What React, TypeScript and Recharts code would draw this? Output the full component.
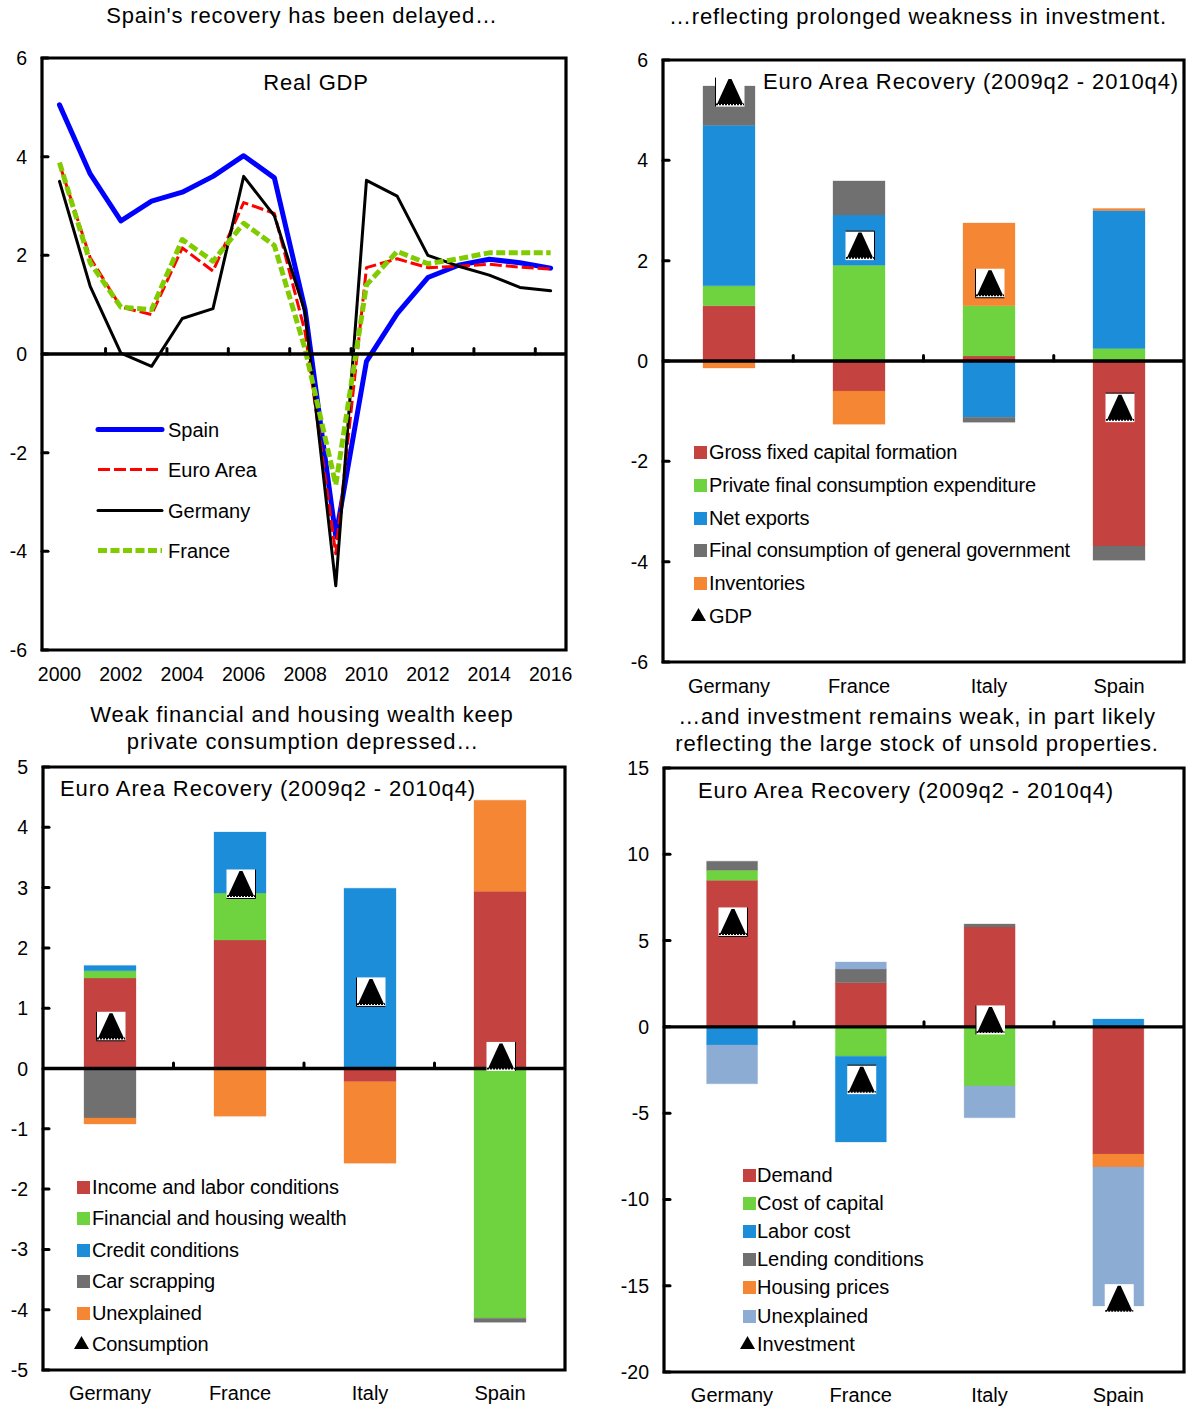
import React from 'react';
import { ComposedChart, Bar, Line, XAxis, YAxis, ReferenceLine, ReferenceArea, Legend } from 'recharts';

const FONT = '"Liberation Sans", Arial, sans-serif';

// Panel 1: real GDP
const years = [2000,2001,2002,2003,2004,2005,2006,2007,2008,2009,2010,2011,2012,2013,2014,2015,2016];
const spainGdp = [5.05,3.65,2.7,3.1,3.28,3.6,4.02,3.57,0.9,-3.7,-0.15,0.82,1.55,1.8,1.92,1.85,1.74];
const euroGdp = [3.85,1.95,0.95,0.8,2.15,1.68,3.07,2.85,0.45,-4.05,1.75,1.93,1.75,1.78,1.82,1.76,1.72];
const germanyGdp = [3.5,1.37,0.02,-0.25,0.72,0.92,3.6,2.8,0.85,-4.7,3.52,3.2,2.0,1.78,1.6,1.35,1.28];
const franceGdp = [3.88,1.85,0.95,0.9,2.32,1.88,2.65,2.2,0.1,-2.65,1.4,2.08,1.83,1.93,2.05,2.05,2.05];
const yearTicks = [2000,2002,2004,2006,2008,2010,2012,2014,2016];
const yearMarks = [2001.5,2003.5,2005.5,2007.5,2009.5,2011.5,2013.5,2015.5];

const countries = ['Germany','France','Italy','Spain'];

// Panel 2: GDP contributions
const gfcf = [1.1,-0.6,0.1,-3.69];
const privCons = [0.4,1.91,1.0,0.25];
const netExports = [3.2,1.0,-1.12,2.75];
const govCons = [0.78,0.68,-0.1,-0.28];
const inventories = [-0.14,-0.66,1.65,0.04];
const gdpMark = [5.36,2.3,1.55,-0.93];
const gdpEdges = ['L','TR','LB','T'];

// Panel 3: consumption contributions
const incomeLabor = [1.5,2.13,-0.22,2.94];
const finHousing = [0.12,0.78,0,-4.14];
const creditCond = [0.09,1.01,2.99,0];
const carScrap = [-0.82,0,0,-0.07];
const unexplainedC = [-0.1,-0.79,-1.35,1.51];
const consMark = [0.7,3.06,1.27,0.2];
const consEdges = ['LB','RB','LB','R'];

// Panel 4: investment contributions
const demand = [8.5,2.55,5.79,-7.37];
const costCapital = [0.58,-1.7,-3.42,0];
const laborCost = [-1.05,-4.97,0,0.45];
const lending = [0.52,0.8,0.17,0];
const housingPrices = [0,0,0,-0.75];
const unexplainedI = [-2.25,0.41,-1.85,-8.05];
const invMark = [6.08,-3.06,0.4,-15.75];
const invEdges = ['RB','T','L',''];

const RED = '#C44240', GREEN = '#6FD33F', BLUE = '#1C8DD9', GRAY = '#707070', ORANGE = '#F58634', LTBLUE = '#8DACD4';

const gdpRows = years.map((year, i) => ({ year, Spain: spainGdp[i], 'Euro Area': euroGdp[i], Germany: germanyGdp[i], France: franceGdp[i] }));

const lineSeries = [
  { name: 'Spain', stroke: '#0000FF', width: 5, dash: undefined, cap: 'round' },
  { name: 'Euro Area', stroke: '#FF0000', width: 3, dash: '12 4', cap: 'butt' },
  { name: 'Germany', stroke: '#000000', width: 3, dash: undefined, cap: 'round' },
  { name: 'France', stroke: '#80CC00', width: 5, dash: '9 3.5', cap: 'butt' },
];

const panel2Series = [
  { name: 'Gross fixed capital formation', color: RED, values: gfcf },
  { name: 'Private final consumption expenditure', color: GREEN, values: privCons },
  { name: 'Net exports', color: BLUE, values: netExports },
  { name: 'Final consumption of general government', color: GRAY, values: govCons },
  { name: 'Inventories', color: ORANGE, values: inventories },
];
const panel3Series = [
  { name: 'Income and labor conditions', color: RED, values: incomeLabor },
  { name: 'Financial and housing wealth', color: GREEN, values: finHousing },
  { name: 'Credit conditions', color: BLUE, values: creditCond },
  { name: 'Car scrapping', color: GRAY, values: carScrap },
  { name: 'Unexplained', color: ORANGE, values: unexplainedC },
];
const panel4Series = [
  { name: 'Demand', color: RED, values: demand },
  { name: 'Cost of capital', color: GREEN, values: costCapital },
  { name: 'Labor cost', color: BLUE, values: laborCost },
  { name: 'Lending conditions', color: GRAY, values: lending },
  { name: 'Housing prices', color: ORANGE, values: housingPrices },
  { name: 'Unexplained', color: LTBLUE, values: unexplainedI },
];

const Txt = ({ x, y, size = 22, spacing = 0.82, center, children }: any) => (
  <div style={{
    position: 'absolute', left: center ? x - 400 : x, width: center ? 800 : undefined, top: y - 15, height: 30, lineHeight: '30px',
    textAlign: center ? 'center' : 'left', whiteSpace: 'nowrap', fontFamily: FONT, fontSize: size, letterSpacing: spacing, color: '#000', zIndex: 5,
  }}>{children}</div>
);

const makeYTick = (frameLeft: number) => (props: any) => {
  const { y, payload } = props;
  return (
    <g>
      <line x1={frameLeft} x2={frameLeft + 6} y1={y} y2={y} stroke="#000" strokeWidth={3} strokeLinecap="round" />
      <text x={frameLeft - 15} y={y} textAnchor="end" dominantBaseline="central" fontFamily={FONT} fontSize={19.5} fill="#000">{payload.value}</text>
    </g>
  );
};

const makeMarker = (edges: string[]) => (props: any) => {
  const { cx, cy, index } = props;
  if (cx == null || cy == null) return <g key={index} />;
  const e = edges[index] || '';
  const x0 = cx - 13.5, x1 = cx + 15.5, y0 = cy - 14.5, y1 = cy + 14.5;
  return (
    <g key={index}>
      <rect x={x0} y={y0} width={29} height={29} fill="#fff" />
      <path d={`M${cx - 0.5} ${cy - 13} L${cx + 2.5} ${cy - 13} L${cx + 14} ${cy + 12} L${cx - 12} ${cy + 12} Z`} fill="#000" />
      <line x1={cx - 13} x2={cx + 15} y1={cy + 12.2} y2={cy + 12.2} stroke="#000" strokeWidth={1.8} strokeDasharray="2 1" />
      {e.includes('L') && <line x1={x0} x2={x0} y1={y0} y2={y1} stroke="#000" strokeWidth={1} />}
      {e.includes('R') && <line x1={x1} x2={x1} y1={y0} y2={y1} stroke="#000" strokeWidth={1} />}
      {e.includes('T') && <line x1={x0} x2={x1} y1={y0} y2={y0} stroke="#000" strokeWidth={1} />}
      {e.includes('B') && <line x1={x0} x2={x1} y1={y1} y2={y1} stroke="#000" strokeWidth={1} />}
    </g>
  );
};

const LegendRows = ({ rows, spacing, textOffset, tracking = 0 }: any) => (
  <div style={{ position: 'relative', fontFamily: FONT, fontSize: 20, color: '#000', letterSpacing: tracking }}>
    {rows.map((r: any, i: number) => (
      <div key={r.name} style={{ position: 'absolute', left: 0, top: i * spacing - 15, height: 30, lineHeight: '30px', whiteSpace: 'nowrap' }}>
        <svg width={textOffset} height={30} style={{ position: 'absolute', left: 0, top: 0, overflow: 'visible' }}>
          {r.kind === 'line' && <line x1={1} x2={textOffset - 6} y1={14.5} y2={14.5} stroke={r.stroke} strokeWidth={r.width} strokeDasharray={r.dash} strokeLinecap={r.cap} />}
          {r.kind === 'square' && <rect x={0} y={9} width={13} height={13} fill={r.color} />}
          {r.kind === 'triangle' && <path d="M-3 20 L4.5 7 L12 20 Z" fill="#000" />}
        </svg>
        <span style={{ position: 'absolute', left: textOffset }}>{r.name}</span>
      </div>
    ))}
  </div>
);

const LinePanel = () => {
  const yTicks = [-6,-4,-2,0,2,4,6];
  return (
    <div style={{ position: 'absolute', left: 0, top: 40 }}>
      <ComposedChart width={596} height={660} data={gdpRows} margin={{ top: 18, right: 30, bottom: 0, left: 0 }}>
        <XAxis dataKey="year" type="number" domain={[1999.43, 2016.5]} allowDataOverflow ticks={yearTicks} interval={0} axisLine={false} tickLine={false} tickMargin={11} height={50}
          tick={{ fontFamily: FONT, fontSize: 19.5, fill: '#000' }} tickFormatter={(v: number) => String(v)} />
        <YAxis type="number" domain={[-6, 6]} ticks={yTicks} width={42} axisLine={false} tickLine={false} interval={0} tick={makeYTick(42)} />
        {lineSeries.map(s => (
          <Line key={s.name} dataKey={s.name} type="linear" stroke={s.stroke} strokeWidth={s.width} strokeDasharray={s.dash} strokeLinecap={s.cap as any} strokeLinejoin="round" dot={false} activeDot={false} isAnimationActive={false} />
        ))}
        <ReferenceLine y={0} stroke="#000" strokeWidth={3.4} />
        {yearMarks.map(m => (
          <ReferenceLine key={m} segment={[{ x: m, y: 0 }, { x: m, y: 0.11 }]} stroke="#000" strokeWidth={3} strokeLinecap="round" />
        ))}
        <ReferenceArea x1={1999.43} x2={2016.5} y1={-6} y2={6} fill="none" stroke="#000" strokeWidth={3.2} ifOverflow="visible" />
        <Legend layout="vertical" align="center" verticalAlign="middle" wrapperStyle={{ left: 97, top: 390, width: 200, height: 10, margin: 0 }}
          content={() => <LegendRows spacing={40.3} textOffset={71} rows={lineSeries.map(s => ({ ...s, kind: 'line' }))} />} />
      </ComposedChart>
    </div>
  );
};

const StackPanel = ({ left, top, width, height, yWidth, marginTop, right, xHeight, domain, yTicks, series, marks, markName, edges, legend, tickUnits, barSize, tickMargin, pad }: any) => {
  const rows = countries.map((c, i) => {
    const row: any = { country: c, slot: i, [markName]: marks[i] };
    series.forEach((s: any) => { row[s.name] = s.values[i]; });
    return row;
  });
  const Marker = makeMarker(edges);
  return (
    <div style={{ position: 'absolute', left, top }}>
      <ComposedChart width={width} height={height} data={rows} stackOffset="sign" barCategoryGap={0} margin={{ top: marginTop, right, bottom: 0, left: 0 }}>
        <XAxis dataKey="country" axisLine={false} tickLine={false} height={xHeight} tickMargin={tickMargin} interval={0} padding={pad} tick={{ fontFamily: FONT, fontSize: 20, fill: '#000' }} />
        <XAxis xAxisId="slots" dataKey="slot" type="number" domain={[0, 4]} allowDataOverflow hide />
        <YAxis type="number" domain={domain} ticks={yTicks} width={yWidth} axisLine={false} tickLine={false} interval={0} tick={makeYTick(yWidth)} />
        {series.map((s: any) => (
          <Bar key={s.name} dataKey={s.name} stackId="a" fill={s.color} stroke={s.color} strokeOpacity={0.3} strokeWidth={1} barSize={barSize} isAnimationActive={false} />
        ))}
        <ReferenceLine y={0} stroke="#000" strokeWidth={3.4} />
        {[1, 2, 3].map(m => (
          <ReferenceLine key={m} xAxisId="slots" segment={[{ x: m, y: 0 }, { x: m, y: tickUnits }]} stroke="#000" strokeWidth={3} strokeLinecap="round" />
        ))}
        <Line dataKey={markName} stroke="none" dot={Marker} activeDot={false} isAnimationActive={false} />
        <ReferenceArea xAxisId="slots" x1={0} x2={4} y1={domain[0]} y2={domain[1]} fill="none" stroke="#000" strokeWidth={3.2} ifOverflow="visible" />
        <Legend layout="vertical" align="center" verticalAlign="middle" wrapperStyle={{ left: legend.left, top: legend.top, width: 420, height: 10, margin: 0 }}
          content={() => <LegendRows spacing={legend.spacing} textOffset={legend.offset} tracking={legend.tracking}
            rows={[...series.map((s: any) => ({ ...s, kind: 'square' })), { name: markName, kind: 'triangle' }]} />} />
      </ComposedChart>
    </div>
  );
};

export default function App() {
  return (
    <div style={{ position: 'absolute', left: 0, top: 0, width: 1193, height: 1410, background: '#fff', overflow: 'hidden' }}>
      <LinePanel />
      <StackPanel left={610} top={40} width={583} height={670} yWidth={53} marginTop={20} right={9} xHeight={48} tickMargin={11} pad={{ left: 1, right: 0 }}
        domain={[-6, 6]} yTicks={[-6,-4,-2,0,2,4,6]} series={panel2Series} marks={gdpMark} markName="GDP" edges={gdpEdges} tickUnits={0.11} barSize={52}
        legend={{ left: 84, top: 412, spacing: 32.8, offset: 15, tracking: -0.18 }} />
      <StackPanel left={0} top={750} width={596} height={660} yWidth={43} marginTop={17} right={31} xHeight={40} tickMargin={10} pad={{ left: 2, right: 0 }}
        domain={[-5, 5]} yTicks={[-5,-4,-3,-2,-1,0,1,2,3,4,5]} series={panel3Series} marks={consMark} markName="Consumption" edges={consEdges} tickUnits={0.09} barSize={52}
        legend={{ left: 77, top: 437, spacing: 31.4, offset: 15, tracking: -0.12 }} />
      <StackPanel left={610} top={750} width={583} height={660} yWidth={54} marginTop={18} right={9} xHeight={38} tickMargin={10} pad={{ left: 3.6, right: 1.4 }}
        domain={[-20, 15]} yTicks={[-20,-15,-10,-5,0,5,10,15]} series={panel4Series} marks={invMark} markName="Investment" edges={invEdges} tickUnits={0.3} barSize={51}
        legend={{ left: 133, top: 425, spacing: 28.1, offset: 14, tracking: 0 }} />
      <Txt x={302} y={16} center>Spain's recovery has been delayed…</Txt>
      <Txt x={918} y={17} center>…reflecting prolonged weakness in investment.</Txt>
      <Txt x={302} y={715} center>Weak financial and housing wealth keep</Txt>
      <Txt x={303} y={742} center>private consumption depressed…</Txt>
      <Txt x={917} y={717} center>…and investment remains weak, in part likely</Txt>
      <Txt x={917} y={744} center>reflecting the large stock of unsold properties.</Txt>
      <Txt x={316} y={83} center>Real GDP</Txt>
      <Txt x={763} y={82} spacing={0.89}>Euro Area Recovery (2009q2 - 2010q4)</Txt>
      <Txt x={60} y={789} spacing={0.89}>Euro Area Recovery (2009q2 - 2010q4)</Txt>
      <Txt x={698} y={791} spacing={0.89}>Euro Area Recovery (2009q2 - 2010q4)</Txt>
    </div>
  );
}
